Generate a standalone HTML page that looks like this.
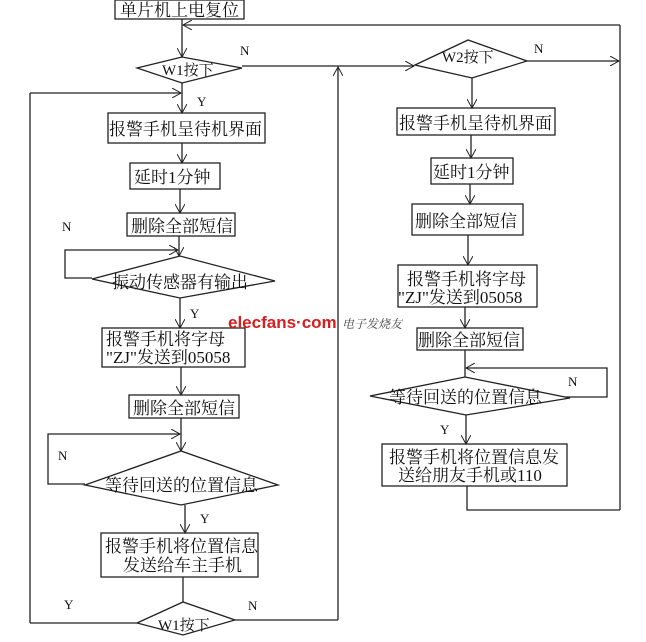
<!DOCTYPE html>
<html><head><meta charset="utf-8"><style>
html,body{margin:0;padding:0;background:#fff;}
svg{display:block;}
text{font-family:"Liberation Serif","Noto Serif CJK SC","Noto Sans CJK SC",serif;font-size:17px;fill:#111;}
.s{font-size:13px;}
.d{font-size:15px;}
</style></head><body>
<svg width="646" height="642" viewBox="0 0 646 642">
<defs>
<marker id="a" markerWidth="10" markerHeight="10" refX="9" refY="5" orient="auto" markerUnits="userSpaceOnUse">
<path d="M0,0 L9,5 L0,10" fill="none" stroke="#222" stroke-width="1"/></marker>
</defs>
<g stroke="#222" stroke-width="1.3" fill="none">
<rect x="115" y="0" width="129" height="19"/>
<line x1="182" y1="19" x2="182" y2="57" marker-end="url(#a)"/>
<line x1="620" y1="25" x2="183" y2="25" marker-end="url(#a)"/>
<line x1="620" y1="25" x2="620" y2="510"/>
<polygon points="137,68 182,57 242,68 182,83" fill="#fff"/>
<line x1="242" y1="66" x2="414" y2="66" marker-end="url(#a)"/>
<line x1="182" y1="83" x2="182" y2="113" marker-end="url(#a)"/>
<line x1="30" y1="93" x2="181" y2="93" marker-end="url(#a)"/>
<line x1="30" y1="93" x2="30" y2="623"/>
<rect x="108" y="113" width="157" height="30"/>
<line x1="182" y1="143" x2="182" y2="163" marker-end="url(#a)"/>
<rect x="130" y="163" width="90" height="26"/>
<line x1="180" y1="189" x2="180" y2="213" marker-end="url(#a)"/>
<rect x="127" y="213" width="108" height="23"/>
<line x1="179" y1="236" x2="179" y2="256" marker-end="url(#a)"/>
<polyline points="92,278 65,278 65,250 178,250" marker-end="url(#a)"/>
<polygon points="92,279 180,256 275,281 180,298" fill="#fff"/>
<line x1="180" y1="298" x2="180" y2="328" marker-end="url(#a)"/>
<rect x="102" y="328" width="143" height="39"/>
<line x1="181" y1="367" x2="181" y2="395" marker-end="url(#a)"/>
<rect x="129" y="395" width="110" height="23"/>
<line x1="181" y1="418" x2="181" y2="451" marker-end="url(#a)"/>
<polyline points="85,484 48,484 48,434 180,434" marker-end="url(#a)"/>
<polygon points="85,485 181,451 278,485 181,505" fill="#fff"/>
<line x1="185" y1="505" x2="185" y2="533" marker-end="url(#a)"/>
<rect x="101" y="533" width="157" height="44"/>
<line x1="183" y1="577" x2="183" y2="602"/>
<polygon points="137,623 183,602 235,620 183,635" fill="#fff"/>
<line x1="137" y1="623" x2="30" y2="623"/>
<line x1="235" y1="620" x2="338" y2="620"/>
<line x1="338" y1="620" x2="338" y2="67" marker-end="url(#a)"/>
<polygon points="415,65 468,40 527,61 472,78" fill="#fff"/>
<line x1="527" y1="61" x2="619" y2="61" marker-end="url(#a)"/>
<line x1="472" y1="78" x2="472" y2="108" marker-end="url(#a)"/>
<rect x="397" y="108" width="158" height="27"/>
<line x1="471" y1="135" x2="471" y2="158" marker-end="url(#a)"/>
<rect x="431" y="158" width="82" height="26"/>
<line x1="470" y1="184" x2="470" y2="204" marker-end="url(#a)"/>
<rect x="412" y="204" width="111" height="31"/>
<line x1="468" y1="235" x2="468" y2="265" marker-end="url(#a)"/>
<rect x="398" y="265" width="139" height="42"/>
<line x1="465" y1="307" x2="465" y2="328" marker-end="url(#a)"/>
<rect x="417" y="328" width="106" height="22"/>
<line x1="465" y1="350" x2="465" y2="377"/>
<polyline points="560,397 607,397 607,368 466,368" marker-end="url(#a)"/>
<polygon points="370,396 465,377 570,398 466,415" fill="#fff"/>
<line x1="466" y1="415" x2="466" y2="444" marker-end="url(#a)"/>
<rect x="382" y="444" width="185" height="42"/>
<polyline points="467,486 467,510 620,510"/>
</g>
<text x="120" y="16">单片机上电复位</text>
<text x="162" y="75" class="d">W1按下</text>
<text x="442" y="62" class="d">W2按下</text>
<text x="240" y="55" class="s">N</text>
<text x="534" y="53" class="s">N</text>
<text x="197" y="106" class="s">Y</text>
<text x="109" y="135">报警手机呈待机界面</text>
<text x="134" y="183">延时1分钟</text>
<text x="131" y="232">删除全部短信</text>
<text x="62" y="231" class="s">N</text>
<text x="112" y="288">振动传感器有输出</text>
<text x="190" y="318" class="s">Y</text>
<text x="106" y="345">报警手机将字母</text>
<text x="106" y="363">"ZJ"发送到05058</text>
<text x="133" y="414">删除全部短信</text>
<text x="58" y="460" class="s">N</text>
<text x="105" y="491">等待回送的位置信息</text>
<text x="200" y="523" class="s">Y</text>
<text x="105" y="552">报警手机将位置信息</text>
<text x="123" y="571">发送给车主手机</text>
<text x="64" y="609" class="s">Y</text>
<text x="248" y="610" class="s">N</text>
<text x="158" y="630" class="d">W1按下</text>
<text x="399" y="129">报警手机呈待机界面</text>
<text x="433" y="178">延时1分钟</text>
<text x="415" y="227">删除全部短信</text>
<text x="407" y="285">报警手机将字母</text>
<text x="398" y="303">"ZJ"发送到05058</text>
<text x="418" y="346">删除全部短信</text>
<text x="568" y="386" class="s">N</text>
<text x="389" y="403">等待回送的位置信息</text>
<text x="440" y="434" class="s">Y</text>
<text x="389" y="463">报警手机将位置信息发</text>
<text x="398" y="481">送给朋友手机或110</text>
<text x="228" y="328" style="font-family:'Liberation Sans',sans-serif;font-size:17px;font-weight:bold;fill:#d42020;">elecfans·com</text>
<text x="342" y="328" style="font-size:12px;font-style:italic;fill:#444;">电子发烧友</text>
</svg>
</body></html>
